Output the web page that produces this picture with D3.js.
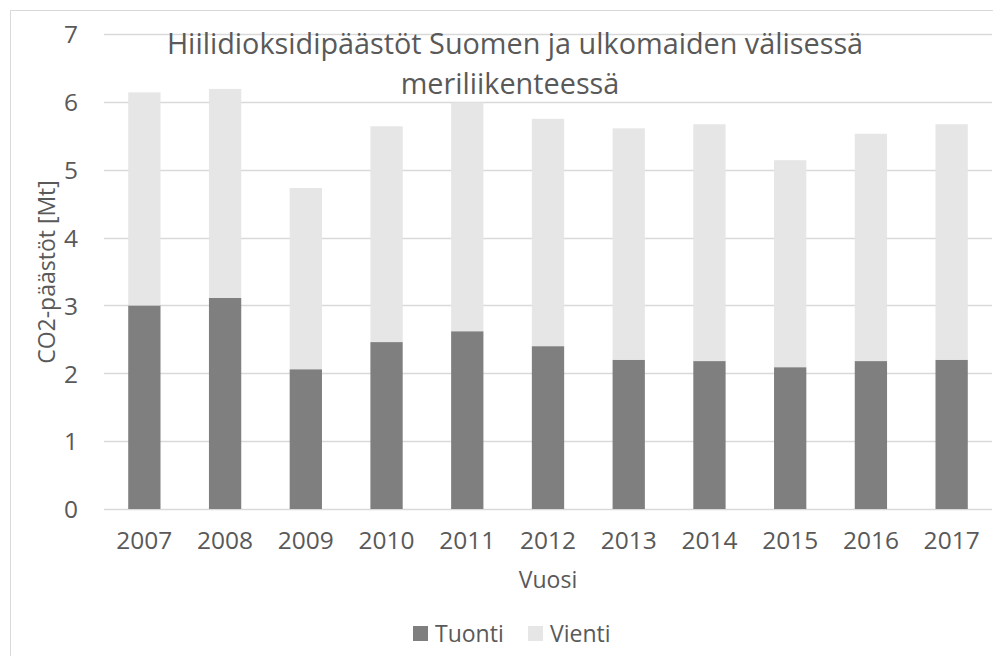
<!DOCTYPE html>
<html><head><meta charset="utf-8">
<script src="https://cdn.jsdelivr.net/npm/d3@7"></script>
<style>body{margin:0;background:#fff}svg{display:block}</style>
</head><body>
<script>
const years = ["2007","2008","2009","2010","2011","2012","2013","2014","2015","2016","2017"];
const tuonti = [3.00, 3.11, 2.06, 2.46, 2.62, 2.40, 2.20, 2.18, 2.09, 2.18, 2.20];
const vienti = [3.14, 3.08, 2.67, 3.18, 3.37, 3.35, 3.41, 3.49, 3.05, 3.35, 3.47];
const seriesNames = ["Tuonti", "Vienti"];
const colors = ["#7f7f7f", "#e6e6e6"];
const yTicks = [0,1,2,3,4,5,6,7];

(function(){
const W = 993, H = 656;
const svg = d3.select("body").append("svg").attr("width", W).attr("height", H);
const font = "'Open Sans', sans-serif";
const txt = "#595959";

svg.append("rect").attr("x", 10.5).attr("y", 10.5).attr("width", W).attr("height", H)
  .attr("fill", "#fff").attr("stroke", "#d9d9d9");

const pL = 104, pR = 992, pT = 34, pB = 509;
const x = d3.scaleBand().domain(years).range([pL, pR]).paddingInner(0.6).paddingOuter(0.3);
const y = d3.scaleLinear().domain([0, 7]).range([pB, pT]);

svg.append("g").selectAll("line").data(yTicks).join("line")
  .attr("x1", pL).attr("x2", pR)
  .attr("y1", d => Math.round(y(d)) + 0.5).attr("y2", d => Math.round(y(d)) + 0.5)
  .attr("stroke", "#d9d9d9").attr("stroke-width", 1.3);

const data = years.map((yr, i) => ({year: yr, Tuonti: tuonti[i], Vienti: vienti[i]}));
const stack = d3.stack().keys(seriesNames)(data);
svg.append("g").selectAll("g").data(stack).join("g")
  .attr("fill", (d, i) => colors[i])
  .selectAll("rect").data(d => d).join("rect")
  .attr("x", d => x(d.data.year)).attr("width", x.bandwidth())
  .attr("y", d => y(d[1])).attr("height", d => y(d[0]) - y(d[1]));

const yAxis = d3.axisLeft(y).tickValues(yTicks).tickSize(0).tickPadding(0).tickFormat(d3.format("d"));
const ga = svg.append("g").attr("transform", `translate(${78},0)`).call(yAxis);
ga.select(".domain").remove();
ga.selectAll("text").attr("font-family", font).attr("font-size", 24.5).attr("fill", txt).attr("dy", "0.36em");

const xAxis = d3.axisBottom(x).tickSize(0).tickPadding(0);
const gx = svg.append("g").attr("transform", `translate(0,${pB + 23})`).call(xAxis);
gx.select(".domain").remove();
gx.selectAll("text").attr("font-family", font).attr("font-size", 24.5).attr("fill", txt).attr("dy", "0.71em");

svg.append("text").attr("x", 548).attr("y", 588).attr("text-anchor", "middle")
  .attr("font-family", font).attr("font-size", 23).attr("fill", txt).text("Vuosi");
svg.append("text").attr("transform", "translate(55,272) rotate(-90)").attr("text-anchor", "middle")
  .attr("font-family", font).attr("font-size", 23).attr("fill", txt).text("CO2-päästöt [Mt]");

const title = svg.append("text").attr("text-anchor", "middle").attr("font-family", font)
  .attr("font-size", 28.8).attr("fill", txt);
title.append("tspan").attr("x", 515).attr("y", 54).text("Hiilidioksidipäästöt Suomen ja ulkomaiden välisessä");
title.append("tspan").attr("x", 510).attr("y", 94).text("meriliikenteessä");

const lg = svg.append("g");
const legendX = [413, 528];
seriesNames.forEach((s, i) => {
  lg.append("rect").attr("x", legendX[i]).attr("y", 626).attr("width", 15).attr("height", 15).attr("fill", colors[i]);
  lg.append("text").attr("x", legendX[i] + 22).attr("y", 642).attr("font-family", font)
    .attr("font-size", 23).attr("fill", txt).text(s);
});
})();
</script>
</body></html>
